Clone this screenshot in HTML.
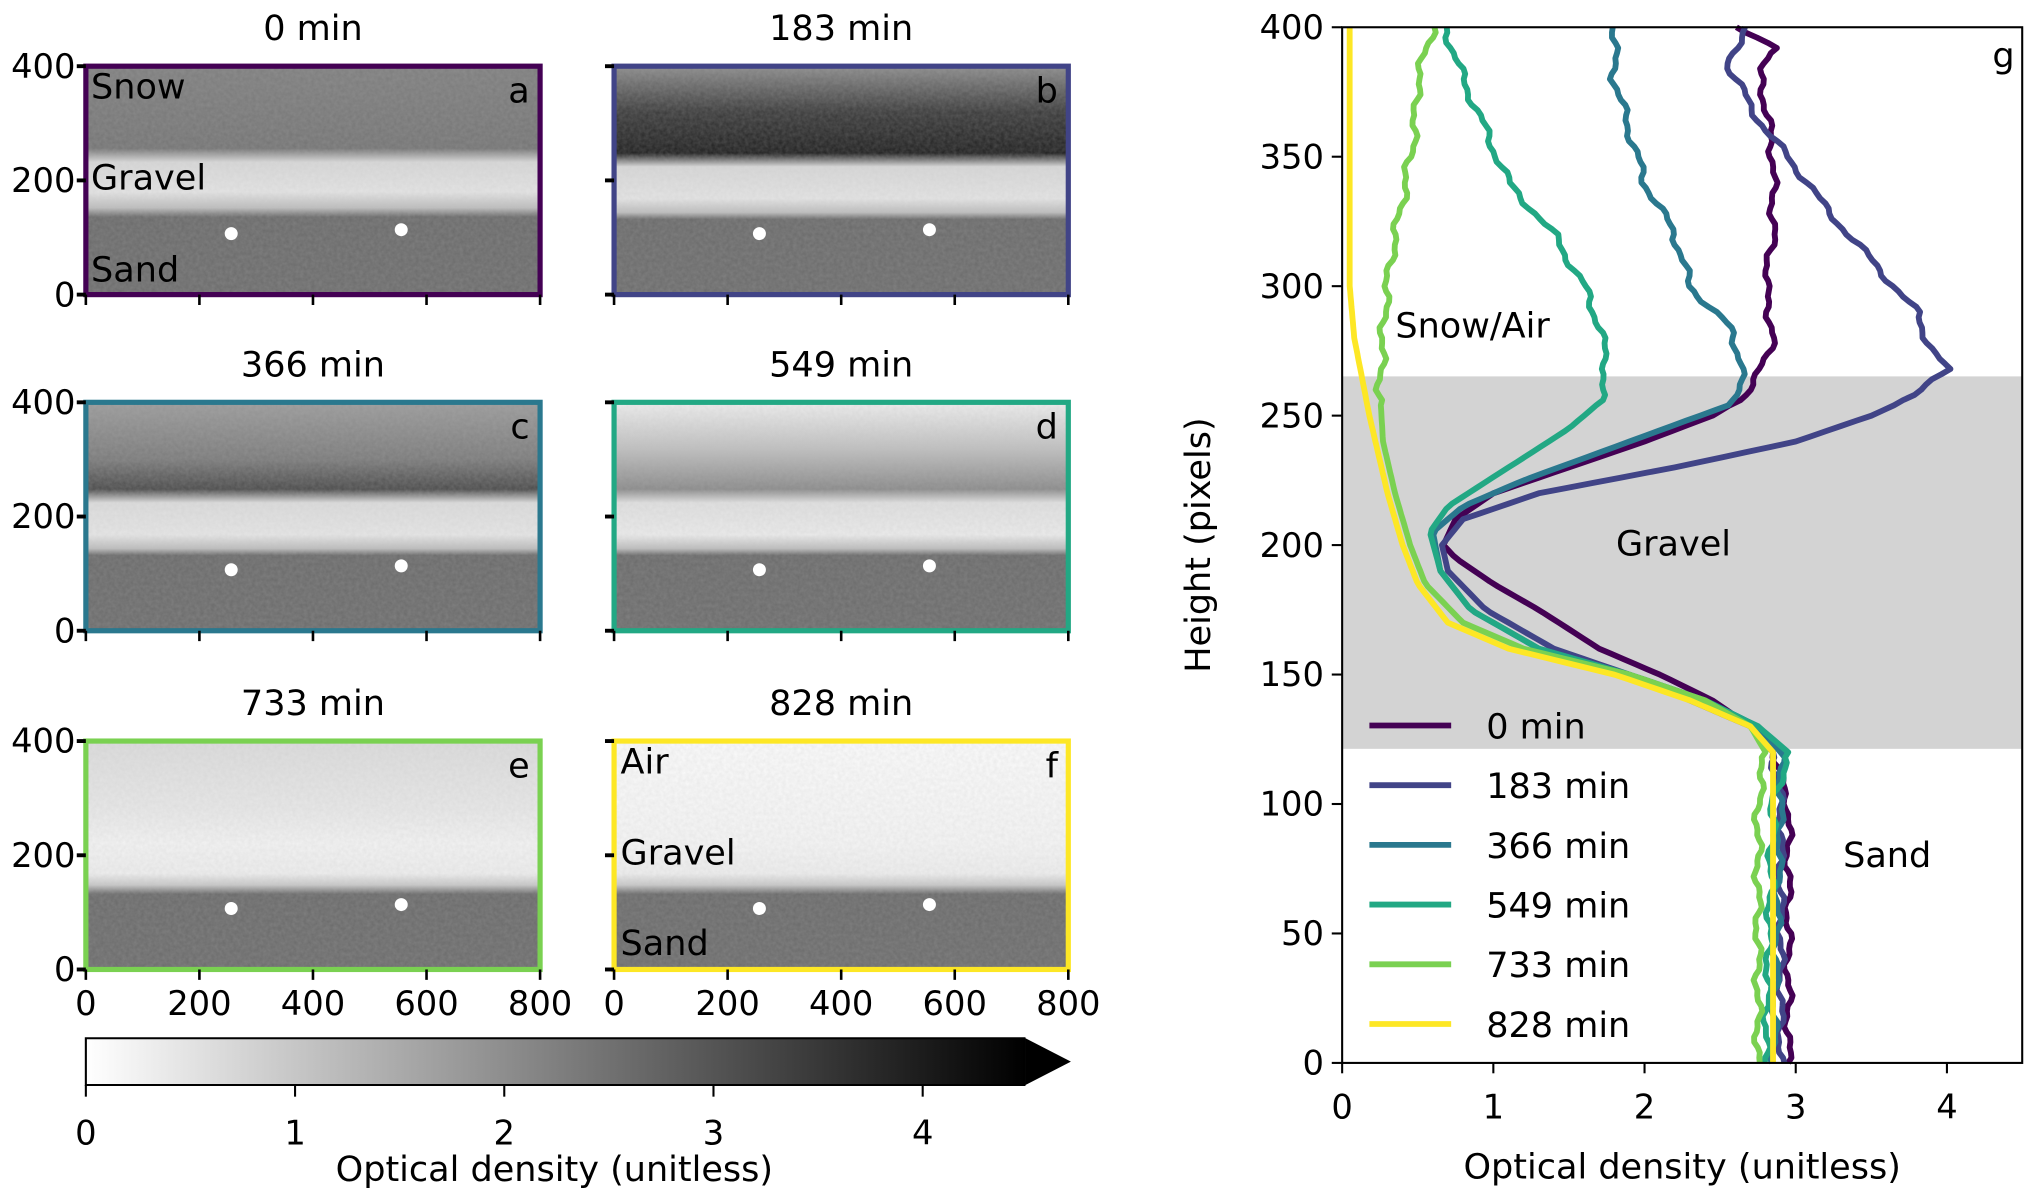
<!DOCTYPE html>
<html><head><meta charset="utf-8">
<style>
html,body{margin:0;padding:0;background:#fff;}
svg{display:block;}
text{font-family:"DejaVu Sans","Liberation Sans",sans-serif;fill:#000;}
</style></head>
<body>
<svg id="s" width="2025" height="1194" viewBox="0 0 1560 920" xmlns="http://www.w3.org/2000/svg">
<defs>
<filter id="noise" x="0" y="0" width="100%" height="100%">
<feTurbulence type="fractalNoise" baseFrequency="0.35" numOctaves="2" seed="3"/>
<feColorMatrix type="matrix" values="0 0 0 0 0.5  0 0 0 0 0.5  0 0 0 0 0.5  0 0 0 0.25 0"/>
<feComposite in2="SourceGraphic" operator="in"/>
</filter>
<linearGradient id="ga" x1="0" y1="0" x2="0" y2="1">
<stop offset="0" stop-color="#7e7e7e"/><stop offset="0.36" stop-color="#747474"/>
<stop offset="0.42" stop-color="#d8d8d8"/><stop offset="0.55" stop-color="#e4e4e4"/>
<stop offset="0.62" stop-color="#bdbdbd"/><stop offset="0.66" stop-color="#6a6a6a"/><stop offset="1" stop-color="#6c6c6c"/></linearGradient>
<linearGradient id="gb" x1="0" y1="0" x2="0" y2="1">
<stop offset="0" stop-color="#8a8a8a"/><stop offset="0.2" stop-color="#3a3a3a"/><stop offset="0.38" stop-color="#1e1e1e"/>
<stop offset="0.44" stop-color="#d8d8d8"/><stop offset="0.58" stop-color="#e4e4e4"/>
<stop offset="0.64" stop-color="#bdbdbd"/><stop offset="0.67" stop-color="#6a6a6a"/><stop offset="1" stop-color="#6c6c6c"/></linearGradient>
<linearGradient id="gc" x1="0" y1="0" x2="0" y2="1">
<stop offset="0" stop-color="#9a9a9a"/><stop offset="0.25" stop-color="#7a7a7a"/><stop offset="0.38" stop-color="#4a4a4a"/>
<stop offset="0.44" stop-color="#dcdcdc"/><stop offset="0.58" stop-color="#e6e6e6"/>
<stop offset="0.64" stop-color="#bdbdbd"/><stop offset="0.67" stop-color="#6a6a6a"/><stop offset="1" stop-color="#6c6c6c"/></linearGradient>
<linearGradient id="gd" x1="0" y1="0" x2="0" y2="1">
<stop offset="0" stop-color="#eeeeee"/><stop offset="0.2" stop-color="#c0c0c0"/><stop offset="0.38" stop-color="#8a8a8a"/>
<stop offset="0.44" stop-color="#e0e0e0"/><stop offset="0.58" stop-color="#ebebeb"/>
<stop offset="0.64" stop-color="#bdbdbd"/><stop offset="0.67" stop-color="#6a6a6a"/><stop offset="1" stop-color="#6c6c6c"/></linearGradient>
<linearGradient id="ge" x1="0" y1="0" x2="0" y2="1">
<stop offset="0" stop-color="#dcdcdc"/><stop offset="0.3" stop-color="#e8e8e8"/><stop offset="0.45" stop-color="#f3f3f3"/>
<stop offset="0.58" stop-color="#eeeeee"/><stop offset="0.63" stop-color="#c8c8c8"/><stop offset="0.67" stop-color="#6a6a6a"/><stop offset="1" stop-color="#6c6c6c"/></linearGradient>
<linearGradient id="gf" x1="0" y1="0" x2="0" y2="1">
<stop offset="0" stop-color="#fbfbfb"/><stop offset="0.45" stop-color="#f5f5f5"/>
<stop offset="0.58" stop-color="#eeeeee"/><stop offset="0.63" stop-color="#c8c8c8"/><stop offset="0.67" stop-color="#6a6a6a"/><stop offset="1" stop-color="#6c6c6c"/></linearGradient>
<linearGradient id="cb" x1="0" y1="0" x2="1" y2="0">
<stop offset="0" stop-color="#fff"/><stop offset="1" stop-color="#000"/></linearGradient>
</defs>
<g id="panels"></g>
<rect x="66" y="800" width="724" height="36" fill="url(#cb)"/>
<polygon points="790,800 825,818 790,836" fill="#000"/>
<polyline points="790,800 66,800 66,836 790,836" fill="none" stroke="#000" stroke-width="1.6"/>
<g id="cbt" font-size="26" text-anchor="middle"></g>
<text x="427" y="910" font-size="27" text-anchor="middle">Optical density (unitless)</text>
<rect x="1034" y="290" width="524" height="287" fill="#d3d3d3"/>
<g id="curves" fill="none" stroke-width="4.5" stroke-linejoin="round"></g>
<rect x="1034" y="21" width="524" height="798" fill="none" stroke="#000" stroke-width="1.6"/>
<g id="rt" font-size="26"></g>
<text x="1075" y="260" font-size="27">Snow/Air</text>
<text x="1245" y="428" font-size="27">Gravel</text>
<text x="1420" y="668" font-size="27">Sand</text>
<text x="1535" y="52" font-size="27">g</text>
<text transform="translate(932,420) rotate(-90)" font-size="27" text-anchor="middle">Height (pixels)</text>
<text x="1296" y="908" font-size="27" text-anchor="middle">Optical density (unitless)</text>
<g id="leg" font-size="27"></g>
</svg>
<script>
var NS="http://www.w3.org/2000/svg";
function el(p,t,a,txt){var e=document.createElementNS(NS,t);for(var k in a)e.setAttribute(k,a[k]);if(txt!==undefined)e.textContent=txt;document.getElementById(p).appendChild(e);return e;}
var P=[
 {x:66,y:51,g:"ga",c:"#440154",t:"0 min",l:"a",labs:[["Snow",70,76,"#fff"],["Gravel",70,146,"#000"],["Sand",70,217,"#fff"]],yl:true},
 {x:473,y:51,g:"gb",c:"#414487",t:"183 min",l:"b",labs:[]},
 {x:66,y:310,g:"gc",c:"#2a788e",t:"366 min",l:"c",labs:[],yl:true},
 {x:473,y:310,g:"gd",c:"#22a884",t:"549 min",l:"d",labs:[]},
 {x:66,y:571,g:"ge",c:"#7ad151",t:"733 min",l:"e",labs:[],yl:true,xl:true},
 {x:473,y:571,g:"gf",c:"#fde725",t:"828 min",l:"f",labs:[["Air",478,596,"#000"],["Gravel",478,666,"#000"],["Sand",478,736,"#fff"]],xl:true}
];
P.forEach(function(p){
 var W=350,H=176;
 el("panels","rect",{x:p.x,y:p.y,width:W,height:H,fill:"url(#"+p.g+")"});
 el("panels","rect",{x:p.x,y:p.y,width:W,height:H,fill:"#888",filter:"url(#noise)"});
 el("panels","circle",{cx:p.x+112,cy:p.y+129,r:5,fill:"#fff"});
 el("panels","circle",{cx:p.x+243,cy:p.y+126,r:5,fill:"#fff"});
 el("panels","rect",{x:p.x,y:p.y,width:W,height:H,fill:"none",stroke:p.c,"stroke-width":4});
 el("panels","text",{x:p.x+W/2,y:p.y-20,"font-size":27,"text-anchor":"middle"},p.t);
 el("panels","text",{x:p.x+W-8,y:p.y+28,"font-size":27,"text-anchor":"end",fill:(p.l=="a"||p.l=="b")?"#fff":"#000"},p.l);
 p.labs.forEach(function(q){el("panels","text",{x:q[1],y:q[2],"font-size":27,fill:q[3]},q[0]);});
 [0,200,400].forEach(function(v){var yy=p.y+H-v*H/400;
  el("panels","line",{x1:p.x-7,x2:p.x,y1:yy,y2:yy,stroke:"#000","stroke-width":3});
  if(p.yl)el("panels","text",{x:p.x-8,y:yy+9,"font-size":26,"text-anchor":"end"},v);});
 [0,200,400,600,800].forEach(function(v){var xx=p.x+v*W/800;
  el("panels","line",{x1:xx,x2:xx,y1:p.y+H,y2:p.y+H+8,stroke:"#000","stroke-width":2});
  if(p.xl)el("panels","text",{x:xx,y:p.y+H+35,"font-size":26,"text-anchor":"middle"},v);});
});
for(var i=0;i<=4;i++){var xx=66+i*161.2;el("cbt","line",{x1:xx,x2:xx,y1:836,y2:845,stroke:"#000","stroke-width":1.6});el("cbt","text",{x:xx,y:882},i);}
function X(o){return 1034+116.5*o;} function Y(h){return 819-1.995*h;}
for(var i=0;i<=4;i++){el("rt","line",{x1:X(i),x2:X(i),y1:819,y2:827,stroke:"#000","stroke-width":1.6});el("rt","text",{x:X(i),y:862,"text-anchor":"middle"},i);}
for(var v=0;v<=400;v+=50){el("rt","line",{x1:1026,x2:1034,y1:Y(v),y2:Y(v),stroke:"#000","stroke-width":1.6});el("rt","text",{x:1020,y:Y(v)+9,"text-anchor":"end"},v);}
var D=[
 ["#440154",[[0,2.95],[50,2.95],[100,2.95],[120,2.85],[130,2.7],[140,2.45],[150,2.1],[160,1.7],[175,1.3],[185,1.0],[195,0.75],[200,0.67],[210,0.75],[220,1.0],[230,1.5],[240,2.0],[250,2.45],[257,2.65],[265,2.75],[280,2.85],[300,2.8],[320,2.85],[350,2.85],[370,2.8],[385,2.75],[392,2.9],[400,2.6]]],
 ["#414487",[[0,2.9],[100,2.9],[120,2.85],[130,2.7],[140,2.3],[150,1.9],[160,1.4],[175,0.95],[190,0.7],[200,0.66],[210,0.8],[220,1.3],[230,2.2],[240,3.0],[250,3.5],[258,3.8],[268,4.0],[275,3.9],[290,3.8],[310,3.5],[330,3.2],[350,2.95],[360,2.8],[370,2.7],[385,2.55],[390,2.6],[400,2.65]]],
 ["#2a788e",[[0,2.85],[100,2.9],[120,2.9],[130,2.75],[140,2.4],[150,1.9],[160,1.3],[175,0.85],[190,0.65],[205,0.6],[215,0.8],[225,1.2],[240,1.9],[255,2.6],[270,2.65],[285,2.55],[300,2.3],[320,2.2],[340,2.0],[360,1.9],[380,1.8],[400,1.8]]],
 ["#22a884",[[0,2.8],[100,2.85],[120,2.95],[130,2.75],[140,2.4],[150,1.9],[160,1.3],[175,0.85],[190,0.65],[205,0.58],[215,0.7],[230,1.1],[245,1.5],[255,1.7],[270,1.75],[285,1.7],[300,1.6],[320,1.4],[340,1.1],[360,0.95],[380,0.8],[400,0.68]]],
 ["#7ad151",[[0,2.75],[50,2.75],[100,2.75],[120,2.8],[130,2.7],[140,2.4],[150,1.9],[160,1.2],[170,0.8],[185,0.55],[200,0.45],[220,0.35],[240,0.27],[260,0.25],[290,0.28],[310,0.32],[340,0.42],[360,0.48],[380,0.5],[400,0.6]]],
 ["#fde725",[[0,2.85],[100,2.85],[120,2.85],[130,2.7],[140,2.3],[150,1.8],[160,1.1],[170,0.7],[185,0.5],[200,0.4],[220,0.3],[250,0.18],[280,0.08],[300,0.05],[400,0.05]]]
];
D.forEach(function(d,k){
 var pts=d[1],s=[];
 for(var h=0;h<=400;h+=2){
  var j=0;while(j<pts.length-2&&pts[j+1][0]<h)j++;
  var a=pts[j],b=pts[j+1],t=(h-a[0])/(b[0]-a[0]);t=Math.max(0,Math.min(1,t));
  var o=a[1]+(b[1]-a[1])*t;
  if(k<5&&(h<120||h>255))o+=0.02*Math.sin(h*0.3+k*2)+0.01*Math.sin(h*0.8+k);
  s.push(X(o).toFixed(1)+","+Y(h).toFixed(1));
 }
 el("curves","polyline",{points:s.join(" "),stroke:d[0]});
 var ly=559+46*k;
 el("leg","line",{x1:1055,x2:1118,y1:ly,y2:ly,stroke:d[0],"stroke-width":4.5});
 el("leg","text",{x:1145,y:ly+10},["0 min","183 min","366 min","549 min","733 min","828 min"][k]);
});
</script>
</body></html>
